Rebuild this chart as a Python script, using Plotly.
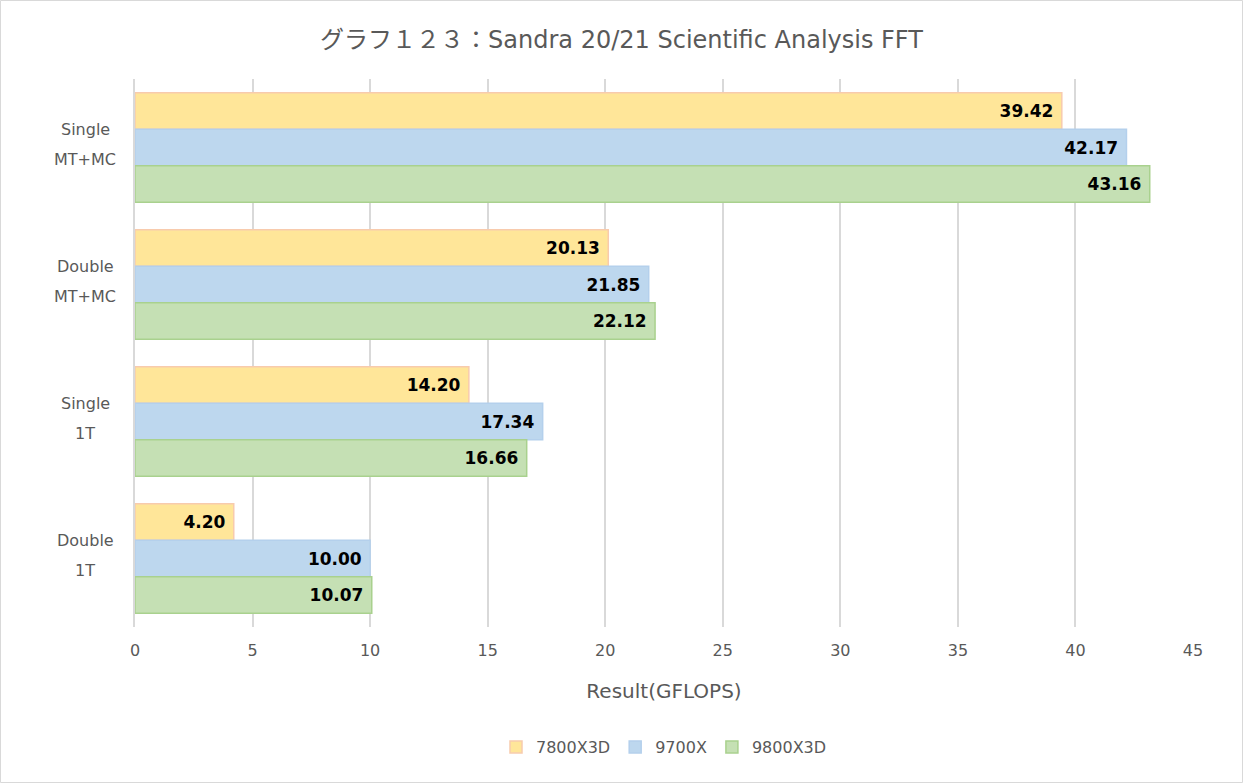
import plotly.graph_objects as go

categories = ["Single MT+MC", "Double MT+MC", "Single 1T", "Double 1T"]
cat_line1 = ["Single", "Double", "Single", "Double"]
cat_line2 = ["MT+MC", "MT+MC", "1T", "1T"]
series_names = ["7800X3D", "9700X", "9800X3D"]
v_7800x3d = [39.42, 20.13, 14.20, 4.20]
v_9700x = [42.17, 21.85, 17.34, 10.00]
v_9800x3d = [43.16, 22.12, 16.66, 10.07]
x_ticks = [0, 5, 10, 15, 20, 25, 30, 35, 40, 45]

fills = ["#FFE699", "#BDD7EE", "#C5E0B4"]
borders = ["#F8CBAD", "#B4D0EC", "#A9D18E"]

W, H = 1243, 783
ML, MR, MT, MB = 135, 50, 79, 156
PW, PH = W - ML - MR, H - MT - MB
FONT = "DejaVu Sans, Noto Sans CJK JP, sans-serif"
GRAY = "#595959"

fig = go.Figure()
for name, vals, fc, bc in zip(series_names, [v_7800x3d, v_9700x, v_9800x3d], fills, borders):
    fig.add_trace(go.Bar(
        y=categories, x=vals, name=name, orientation="h",
        marker=dict(color=fc, line=dict(color=bc, width=1.5)),
        text=[f"<b>{v:.2f}</b>\u00a0" for v in vals],
        textposition="inside", insidetextanchor="end",
        textfont=dict(family=FONT, size=17, color="#000000"),
        textangle=0,
    ))

annotations = []
for c, l1, l2 in zip(categories, cat_line1, cat_line2):
    annotations.append(dict(x=-50 / PW, y=c, xref="paper", yref="y", text=l1, showarrow=False,
                            xanchor="center", yanchor="middle", yshift=18,
                            font=dict(family=FONT, size=16, color=GRAY)))
    annotations.append(dict(x=-50 / PW, y=c, xref="paper", yref="y", text=l2, showarrow=False,
                            xanchor="center", yanchor="middle", yshift=-12,
                            font=dict(family=FONT, size=16, color=GRAY)))

fig.update_layout(
    width=W, height=H,
    margin=dict(l=ML, r=MR, t=MT, b=MB),
    paper_bgcolor="white", plot_bgcolor="white",
    barmode="group", bargap=0.2, bargroupgap=0,
    title=dict(text="グラフ１２３：Sandra 20/21 Scientific Analysis FFT", x=0.5, xanchor="center",
               y=1 - 40 / H, yanchor="middle",
               font=dict(family=FONT, size=24, color=GRAY)),
    xaxis=dict(range=[0, 45], tickvals=x_ticks, showgrid=True, gridcolor="#D9D9D9", gridwidth=2,
               zeroline=False, showline=False, ticks="", ticklabelstandoff=12,
               tickfont=dict(family=FONT, size=16, color=GRAY),
               title=dict(text="Result(GFLOPS)", font=dict(family=FONT, size=20, color=GRAY), standoff=24)),
    yaxis=dict(categoryorder="array", categoryarray=categories, autorange="reversed",
               showticklabels=False, showgrid=False, zeroline=False,
               showline=True, linecolor="#D9D9D9", linewidth=2, ticks=""),
    legend=dict(orientation="h", x=0.5, xanchor="center", y=(MT + PH - 747) / PH, yanchor="middle",
                font=dict(family=FONT, size=16, color=GRAY), traceorder="normal",
                itemwidth=30),
    annotations=annotations,
    shapes=[dict(type="rect", xref="paper", yref="paper",
                 x0=(0.5 - ML) / PW, x1=(W - 0.5 - ML) / PW,
                 y0=(MT + PH - (H - 0.5)) / PH, y1=(MT + PH - 0.5) / PH,
                 line=dict(color="#D9D9D9", width=1), fillcolor="rgba(0,0,0,0)", layer="below")],
)

fig.write_html("out.html", config={"displayModeBar": False},
               post_script="document.body.style.margin='0';document.body.style.overflow='hidden';")
